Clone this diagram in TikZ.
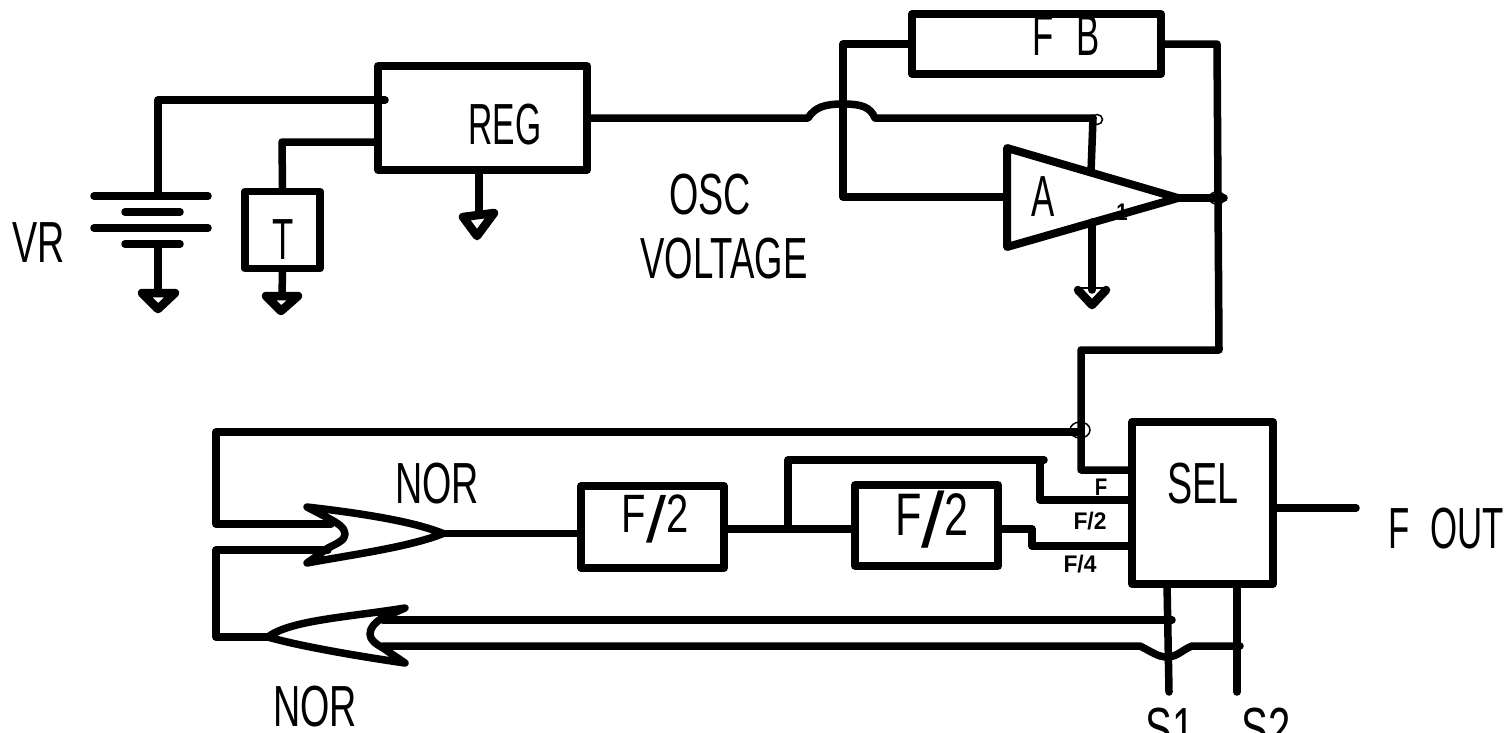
\documentclass[tikz,border=0pt]{standalone}
\usepackage{graphicx}
\usepackage{fontspec}
\setmainfont{Liberation Sans}
\newcommand{\nrw}[2][.6]{\scalebox{#1}[1]{#2}}
\newcommand{\bigslash}[2]{\raisebox{#2}{\fontsize{#1}{#1}\selectfont\scalebox{1.5}[1]{/}}}
\tikzset{
  wire/.style={line width=7.5pt,line cap=round,line join=round,draw=black},
  gndw/.style={line width=8.5pt,line cap=round,line join=round,draw=black},
  thinwire/.style={line width=1.5pt,draw=black},
  boxn/.style={draw=black,line width=7.5pt,line join=round,inner sep=0pt,rectangle},
  lab/.style={inner sep=0pt,font=\fontsize{58}{58}\selectfont},
  smalllab/.style={inner sep=0pt,font=\fontsize{24}{24}\selectfont\bfseries}
}
\begin{document}
\begin{tikzpicture}[x=1pt,y=-1pt]
\useasboundingbox (0,0) rectangle (1511,732);
\clip (0,0) rectangle (1511,732);
% boxes
\node[boxn,minimum width=209pt,minimum height=104pt] (reg) at (482.5,118) {};
\node[boxn,minimum width=75pt,minimum height=77pt] (tbox) at (282.5,230) {};
\node[boxn,minimum width=249pt,minimum height=60pt] (fb) at (1036.5,44) {};
\node[boxn,minimum width=141pt,minimum height=162pt] (sel) at (1202.5,503) {};
\node[boxn,minimum width=143pt,minimum height=82pt] (div1) at (652.5,527) {};
\node[boxn,minimum width=143pt,minimum height=81pt] (div2) at (926.5,525.5) {};
% labels
\node[lab] (lvr) at (39,243) {\nrw[.65]{VR}};
\node[lab] (lt) at (283,240) {\nrw[.6]{T}};
\node[lab] (lreg) at (505,125) {\nrw[.58]{REG}};
\node[lab] (losc) at (710,195) {\nrw[.65]{OSC}};
\node[lab] (lvolt) at (724,259) {\nrw[.63]{VOLTAGE}};
\node[lab] (lfb) at (1066,36) {\nrw[.6]{F\hspace{.65em}B}};
\node[lab] (la) at (1043,197) {\nrw[.6]{A}};
\node[lab] (lsel) at (1203,484) {\nrw[.65]{SEL}};
\node[lab] (lfout) at (1446,529) {\nrw[.6]{F\hspace{.6em}OUT}};
\node[lab] (lnor1) at (437,484) {\nrw[.65]{NOR}};
\node[lab] (lnor2) at (315,707) {\nrw[.65]{NOR}};
\node[lab,anchor=base,font=\fontsize{54}{54}\selectfont] (ldiv1) at (655,532) {\nrw[.74]{F\bigslash{65}{-10pt}2}};
\node[lab,anchor=base,font=\fontsize{60}{60}\selectfont] (ldiv2) at (932,535) {\nrw[.72]{F\bigslash{78}{-12pt}2}};
\node[lab] (ls1) at (1170,729) {\nrw[.69]{S1}};
\node[lab] (ls2) at (1266,729) {\nrw[.69]{S2}};
\node[smalllab] (lf) at (1101,487) {\nrw[.85]{F}};
\node[smalllab] (lf2) at (1090,521) {\nrw[.95]{F/2}};
\node[smalllab] (lf4) at (1080,564) {\nrw[.95]{F/4}};
\node[smalllab] (lone) at (1122,212) {\nrw[.85]{1}};
% coordinates
\coordinate (batTop) at (158,196);
\coordinate (batBot) at (158,244);
\coordinate (vrC) at (158,100);
\coordinate (vrE) at (385,100);
\coordinate (tC) at (282,142);
\coordinate (regGnd) at (479,212);
\coordinate (batGnd) at (158,292);
\coordinate (tGnd) at (282,295);
\coordinate (ampT) at (1007,148);
\coordinate (ampB) at (1007,247);
\coordinate (ampO) at (1178,198);
\coordinate (ampI) at (1007,197);
\coordinate (fbL) at (843,44);
\coordinate (fbLb) at (843,197);
\coordinate (fbR) at (1217,44);
\coordinate (j1) at (1219,350);
\coordinate (j2) at (1081,350);
\coordinate (j3) at (1081,470);
\coordinate (outE) at (1224,198);
\coordinate (h1) at (808,118);
\coordinate (h2) at (875,118);
\coordinate (h3) at (1093,118);
\coordinate (h4) at (1091,172);
\coordinate (ampGt) at (1092,222);
\coordinate (ampGb) at (1092,290);
\coordinate (fo) at (1356,508);
\coordinate (lp1) at (216,432);
\coordinate (lp2) at (1081,432);
\coordinate (lp3) at (216,524);
\coordinate (n1a) at (331,524);
\coordinate (n1b) at (328,550);
\coordinate (lp4) at (216,550);
\coordinate (lp5) at (216,637);
\coordinate (n1O) at (443,533.5);
\coordinate (n2O) at (268,637);
\coordinate (w1) at (788,529);
\coordinate (w2) at (788,460);
\coordinate (w3) at (1044,460);
\coordinate (w4) at (1040,460);
\coordinate (w5) at (1040,500);
\coordinate (w6) at (1032,529);
\coordinate (w7) at (1032,546);
\coordinate (s1t) at (1167,584);
\coordinate (s1b) at (1169,692);
\coordinate (s2t) at (1237,584);
\coordinate (s2b) at (1237,692);
\coordinate (r1a) at (383,620);
\coordinate (r1b) at (1172,620);
\coordinate (r2a) at (383,646);
\coordinate (r2b) at (1140,646);
\coordinate (r2c) at (1192,646);
\coordinate (r2d) at (1240,646);
% battery
\draw[wire] (94,196) -- (208,196);
\draw[wire] (125,212) -- (180,212);
\draw[wire] (94,228) -- (208,228);
\draw[wire] (125,244) -- (180,244);
\draw[wire] (batTop) -- (vrC) -- (vrE);
\draw[wire] (batBot) -- (batGnd);
\draw[wire] (tbox.north) -- (tC) -- (reg.west |- tC);
\draw[wire] (tbox.south) -- (tGnd);
\draw[wire] (reg.south -| regGnd) -- (regGnd);
% grounds
\draw[gndw] (142,293) -- (175,293) -- (158,309) -- cycle;
\draw[gndw] (266,296) -- (298,296) -- (281,311) -- cycle;
\draw[gndw] (463,217) -- (494,213) -- (477,236) -- cycle;
\draw[gndw] (1078,290) -- (1092,305) -- (1106,290);
\draw[thinwire] (1078,288) -- (1106,288);
% reg out with hop
\draw[wire] (reg.east |- h1) -- (h1) .. controls (815,107) and (825,104) .. (843,104) .. controls (862,104) and (870,107) .. (h2) -- (h3);
\draw[wire] (h3) -- (h4);
\draw[thinwire] (1097,119.5) ellipse (5.5pt and 5pt);
% fb loop
\draw[wire] (fb.west) -- (fbL) -- (fbLb) -- (ampI);
\draw[wire] (fb.east) -- (fbR) -- (j1) -- (j2) -- (j3) -- (sel.west |- j3);
% amp
\draw[wire,line width=8pt] (ampT) -- (ampO) -- (ampB) -- cycle;
\draw[wire] (ampO) -- (outE);
\draw[thinwire] (1217,198) ellipse (8pt and 6pt);
\draw[wire] (ampGt) -- (ampGb);
% sel
\draw[wire] (sel.east |- fo) -- (fo);
\draw[wire] (lp2) -- (lp1) -- (lp3) -- (n1a);
\draw[thinwire] (1080,430) ellipse (10pt and 8pt);
\draw[wire] (n1b) -- (lp4) -- (lp5) -- (n2O);
% upper NOR
\draw[wire] (307,507) .. controls (350,512) and (410,520) .. (n1O) .. controls (410,547) and (350,555) .. (307,563) -- (328,548) .. controls (338,543) and (345,540) .. (345,534) .. controls (345,528) and (338,523) .. (328,518) -- cycle;
\draw[wire] (n1O) -- (div1.west |- n1O);
% dividers
\draw[wire] (div1.east |- w1) -- (div2.west |- w1);
\draw[wire] (w1) -- (w2) -- (w3);
\draw[wire] (w4) -- (w5) -- (sel.west |- w5);
\draw[wire] (div2.east |- w6) -- (w6) -- (w7) -- (sel.west |- w7);
% lower NOR
\draw[wire] (405,608) .. controls (350,617) and (290,620) .. (n2O) .. controls (295,645) and (350,655) .. (405,663) -- (383,648) .. controls (376,644) and (370,640) .. (370,634) .. controls (370,627) and (376,622) .. (382,618) -- cycle;
\draw[wire] (r1a) -- (r1b);
\draw[wire] (r2a) -- (r2b) .. controls (1152,652) and (1158,657) .. (1167,657) .. controls (1177,657) and (1182,650) .. (r2c) -- (r2d);
\draw[wire] (s1t) -- (s1b);
\draw[wire] (s2t) -- (s2b);
\end{tikzpicture}
\end{document}
